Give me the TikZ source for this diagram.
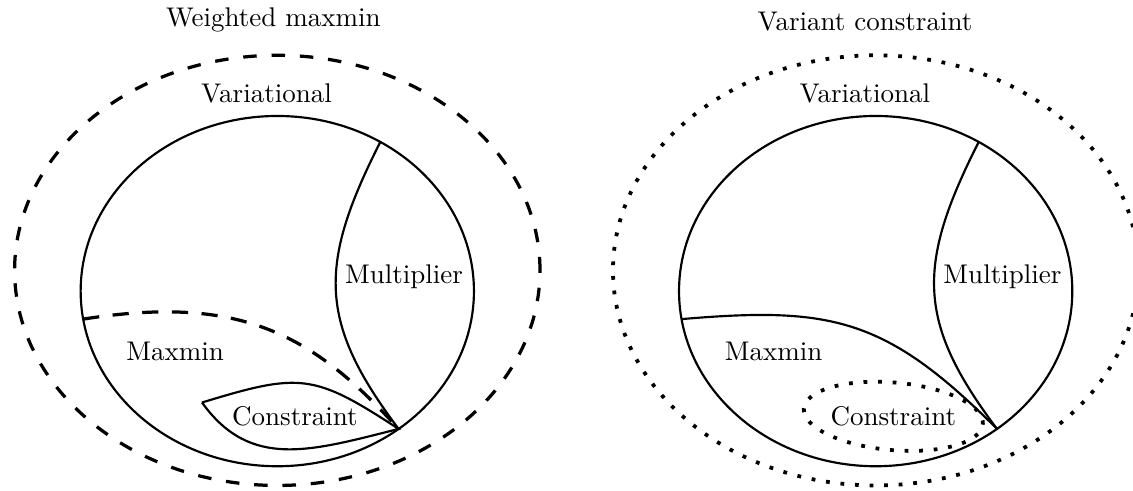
\documentclass[tikz,border=0pt]{standalone}
\tikzset{
    region/.style={thick},
    weighted/.style={very thick, dash pattern=on 5pt off 5.5pt},
    weakline/.style={very thick, dash pattern=on 6pt off 5pt},
    variant/.style={line width=1.4pt, dash pattern=on 1.4pt off 4pt},
}
\begin{document}
\begin{tikzpicture}
    \useasboundingbox (-3.61,-2.6) rectangle (11.14,3.79);
    %% weighted maxmin
    \node[anchor=base] (wtitle) at (-0.05,3.44) {Weighted maxmin};
    \draw[weighted] (0,0.27) ellipse (3.42 and 2.8);
    \draw[region] (0,0) ellipse (2.56 and 2.28);
    \coordinate (wtop) at (58.4:2.56 and 2.28);
    \coordinate (wleft) at (189.2:2.56 and 2.28);
    \coordinate (wtip) at (-51.9:2.56 and 2.28);
    \coordinate (wleaf) at (-0.98,-1.45);
    %% multiplier, maxmin and constraint
    \draw[region] (wtop) .. controls (0.53,0.34) and (0.53,-0.4) .. (wtip);
    \draw[weakline] (wleft) .. controls (-0.53,-0.05) and (0.43,-0.52) .. (wtip);
    \draw[region] (wleaf) .. controls (0.3,-1.06) and (0.47,-1.07) .. (wtip)
        .. controls (0.44,-2.08) and (-0.35,-2.33) .. (wleaf);
    \node[anchor=base] (wvar) at (-0.14,2.45) {Variational};
    \node[anchor=base] (wmult) at (1.65,0.1) {Multiplier};
    \node[anchor=base] (wmax) at (-1.33,-0.9) {Maxmin};
    \node[anchor=base] (wcon) at (0.23,-1.75) {Constraint};

    %% variant constraint
    \begin{scope}[xshift=7.79cm]
        \node[anchor=base] (vtitle) at (-0.14,3.39) {Variant constraint};
        \draw[variant] (0,0.27) ellipse (3.42 and 2.8);
        \draw[region] (0,0) ellipse (2.56 and 2.28);
        \coordinate (vtop) at (58.4:2.56 and 2.28);
        \coordinate (vleft) at (189.2:2.56 and 2.28);
        \coordinate (vtip) at (-51.9:2.56 and 2.28);
        %% multiplier, maxmin and constraint
        \draw[region] (vtop) .. controls (0.53,0.34) and (0.53,-0.4) .. (vtip);
        \draw[region] (vleft) .. controls (-0.59,-0.2) and (0.13,-0.34) .. (vtip);
        \draw[variant] (0.23,-1.63) ellipse[x radius=1.17, y radius=0.44, rotate=-5];
        \node[anchor=base] (vvar) at (-0.14,2.45) {Variational};
        \node[anchor=base] (vmult) at (1.65,0.1) {Multiplier};
        \node[anchor=base] (vmax) at (-1.33,-0.9) {Maxmin};
        \node[anchor=base] (vcon) at (0.23,-1.75) {Constraint};
    \end{scope}
\end{tikzpicture}
\end{document}
